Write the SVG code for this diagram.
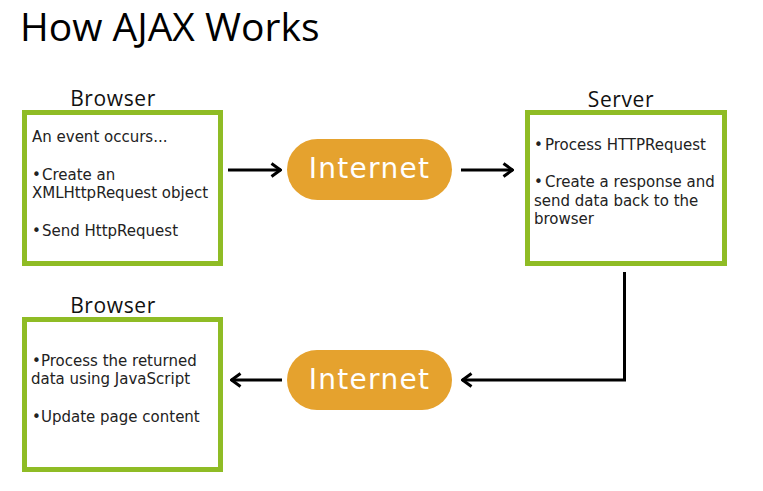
<svg xmlns="http://www.w3.org/2000/svg" width="763" height="491" viewBox="0 0 763 491">
  <style>
    .title { font-family: "Open Sans", "Noto Sans", sans-serif; font-size: 39px; fill: #000; }
    .label { font-family: "Open Sans", "Noto Sans", sans-serif; font-size: 21px; letter-spacing: 0.6px; fill: #111; text-anchor: middle; }
    .box { fill: #fff; stroke: #8FBC25; stroke-width: 5; }
    .body { font-family: "DejaVu Sans", Verdana, sans-serif; font-size: 15px; fill: #222; }
    .pill { fill: #E5A22E; }
    .pilltext { font-family: "DejaVu Sans", Verdana, sans-serif; font-size: 28px; letter-spacing: 1.3px; fill: #fff; text-anchor: middle; }
    .conn { fill: none; stroke: #000; stroke-width: 3; }
  </style>
  <defs>
    <marker id="arrow" viewBox="0 0 12 16" refX="11" refY="8" markerWidth="12" markerHeight="16" markerUnits="userSpaceOnUse" orient="auto">
      <path d="M1.5,1.5 L10.5,8 L1.5,14.5" fill="none" stroke="#000" stroke-width="3"/>
    </marker>
  </defs>

  <text class="title" x="20" y="41">How AJAX Works</text>

  <g id="browser1">
    <text class="label" x="113" y="106">Browser</text>
    <rect class="box" x="24.5" y="112.5" width="196" height="151"/>
    <text class="body" x="32" y="142">An event occurs...</text>
    <text class="body" x="32" y="180">•<tspan x="42">Create an</tspan></text>
    <text class="body" x="32" y="198">XMLHttpRequest object</text>
    <text class="body" x="32" y="236">•<tspan x="42">Send HttpRequest</tspan></text>
  </g>

  <g id="server">
    <text class="label" x="621" y="107">Server</text>
    <rect class="box" x="527.5" y="112.5" width="197" height="151"/>
    <text class="body" x="534" y="150">•<tspan x="545">Process HTTPRequest</tspan></text>
    <text class="body" x="534" y="187">•<tspan x="545">Create a response and</tspan></text>
    <text class="body" x="534" y="206">send data back to the</text>
    <text class="body" x="534" y="224">browser</text>
  </g>

  <g id="browser2">
    <text class="label" x="113" y="313">Browser</text>
    <rect class="box" x="24.5" y="319.5" width="196" height="150"/>
    <text class="body" x="32" y="366">•<tspan x="41">Process the returned</tspan></text>
    <text class="body" x="31" y="384">data using JavaScript</text>
    <text class="body" x="32" y="422">•<tspan x="41">Update page content</tspan></text>
  </g>

  <g id="internet1">
    <rect class="pill" x="287" y="139" width="165" height="61" rx="30.5"/>
    <text class="pilltext" x="369.5" y="178">Internet</text>
  </g>

  <g id="internet2">
    <rect class="pill" x="287" y="350" width="165" height="60" rx="30"/>
    <text class="pilltext" x="369.5" y="389">Internet</text>
  </g>

  <g id="connectors">
    <path class="conn" d="M228,170 H281" marker-end="url(#arrow)"/>
    <path class="conn" d="M461,170 H513" marker-end="url(#arrow)"/>
    <path class="conn" d="M624.5,272 V380 H462" marker-end="url(#arrow)"/>
    <path class="conn" d="M282,380 H231" marker-end="url(#arrow)"/>
  </g>
</svg>
